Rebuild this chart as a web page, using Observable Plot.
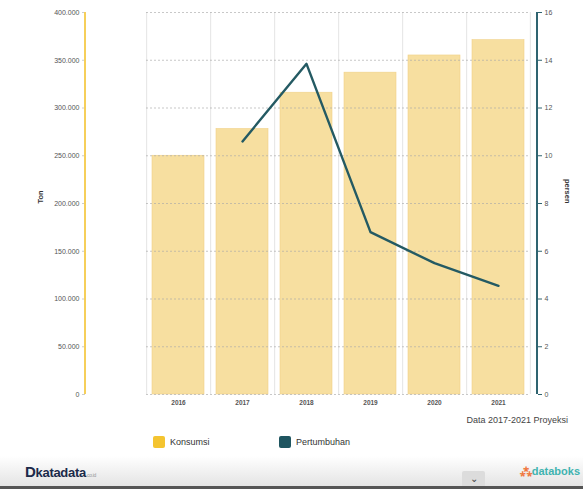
<!DOCTYPE html>
<html>
<head>
<meta charset="utf-8">
<script src="https://cdn.jsdelivr.net/npm/d3@7"></script>
<script src="https://cdn.jsdelivr.net/npm/@observablehq/plot@0.6"></script>
<style>
  html, body { margin: 0; padding: 0; background: #fff; }
  body { width: 583px; height: 489px; position: relative; overflow: hidden; font-family: "Liberation Sans", Arial, sans-serif; }
  #chart { position: absolute; left: 0; top: 0; }
  .note { position: absolute; right: 15px; top: 415px; font-size: 9px; color: #444; }
  .legend { position: absolute; top: 436px; font-size: 9px; color: #333; display: flex; align-items: center; }
  .legend span.sw { display: inline-block; width: 12px; height: 12px; border-radius: 2px; margin-right: 5px; }
  .footer { position: absolute; left: 0; top: 456px; width: 583px; height: 31px;
    background: linear-gradient(#ffffff, #e3e3e3); }
  .bottomline { position: absolute; left: 0; top: 486px; width: 583px; height: 3px; background: #555; }
  .kd { position: absolute; left: 25px; top: 463px; font-size: 13px; font-weight: bold; color: #1b2a4a; letter-spacing: -0.3px; }
  .kd b { font-size: 15px; }
  .kd small { font-size: 5px; color: #999; font-weight: normal; }
  .db { position: absolute; right: 3px; top: 463px; font-size: 11px; font-weight: bold; color: #3fb3b0; }
  .db i { color: #f07840; font-style: normal; }
  .btn { position: absolute; left: 462px; top: 471px; width: 23px; height: 16px; background: #dcdcdc; border-radius: 2px 2px 0 0;
    font-size: 10px; color: #444; text-align: center; line-height: 16px; }
</style>
</head>
<body>
<div id="chart"></div>
<div class="note">Data 2017-2021 Proyeksi</div>
<div class="legend" style="left:153px"><span class="sw" style="background:#f4c430"></span>Konsumsi</div>
<div class="legend" style="left:279px"><span class="sw" style="background:#1f5560"></span>Pertumbuhan</div>
<div class="footer"></div>
<div class="kd"><b>D</b>katadata<small>.co.id</small></div>
<div class="db"><i>&#8258;</i>databoks</div>
<div class="btn">&#8964;</div>
<div class="bottomline"></div>
<script>
const years = ["2016", "2017", "2018", "2019", "2020", "2021"];
const konsumsi = [250000, 278000, 316000, 337000, 355000, 371000];
const growthYears = ["2017", "2018", "2019", "2020", "2021"];
const pertumbuhan = [10.6, 13.85, 6.8, 5.5, 4.55];
const leftTicks = [0, 50000, 100000, 150000, 200000, 250000, 300000, 350000, 400000];
const rightTicks = [0, 2, 4, 6, 8, 10, 12, 14, 16];

const RATIO = 400000 / 16; // right axis 0-16 mapped on left 0-400.000
const bars = years.map((y, i) => ({year: y, value: konsumsi[i]}));
const growth = growthYears.map((y, i) => ({year: y, value: pertumbuhan[i]}));
const fmt = d => d3.format(",")(d).replace(/,/g, ".");

function axisLines(index, scales, values, dim) {
  const g = d3.create("svg:g");
  g.append("line").attr("x1", dim.marginLeft).attr("x2", dim.marginLeft)
    .attr("y1", dim.marginTop).attr("y2", dim.height - dim.marginBottom)
    .attr("stroke", "#f6cf5a").attr("stroke-width", 2);
  const xr = dim.width - dim.marginRight;
  g.append("line").attr("x1", xr).attr("x2", xr)
    .attr("y1", dim.marginTop).attr("y2", dim.height - dim.marginBottom)
    .attr("stroke", "#2f6470").attr("stroke-width", 2);
  return g.node();
}

const STEP = 382 / 6;

const chart = Plot.plot({
  width: 583,
  height: 412,
  marginTop: 12,
  marginBottom: 18,
  marginLeft: 85,
  marginRight: 46,
  style: {fontFamily: "Liberation Sans, Arial, sans-serif", fontSize: "7px", color: "#555"},
  x: {domain: years, paddingInner: 0.18, paddingOuter: 0.09, insetLeft: 61, insetRight: 7, label: null},
  y: {domain: [0, 400000], label: null},
  marks: [
    Plot.ruleX(years, {x: d => d, dx: -STEP / 2, stroke: "#e4e4e4", strokeWidth: 1}),
    Plot.ruleX(["2021"], {x: d => d, dx: STEP / 2, stroke: "#e4e4e4", strokeWidth: 1}),
    Plot.barY(bars, {x: "year", y: "value", fill: "#f7dfa0", stroke: "#f0d188", strokeWidth: 0.6}),
    Plot.ruleY(leftTicks, {y: d => d, insetLeft: 61, insetRight: 7, stroke: "#a8a8a8", strokeOpacity: 0.8, strokeDasharray: "2,2", strokeWidth: 0.8}),
    Plot.line(growth, {x: "year", y: d => d.value * RATIO, stroke: "#245a63", strokeWidth: 2.4}),
    Plot.axisY(leftTicks, {anchor: "left", tickFormat: fmt, tickSize: 3, tickPadding: 3, stroke: "#ccc", fill: "#555", fontSize: 7}),
    Plot.axisY(leftTicks, {anchor: "right", tickFormat: d => d / RATIO, tickSize: 4, tickPadding: 3, stroke: "#2f6470", fill: "#555", fontSize: 7}),
    Plot.axisX({tickSize: 0, tickPadding: 6, fontSize: 6.5, fontWeight: "bold", fill: "#555"}),
    axisLines,
    Plot.text(["Ton"], {frameAnchor: "left", dx: -45, rotate: -90, fontWeight: "bold", fontSize: 7.5, fill: "#333", text: d => d}),
    Plot.text(["persen"], {frameAnchor: "right", dx: 30, rotate: 90, fontWeight: "bold", fontSize: 7.5, fill: "#333", text: d => d})
  ]
});
document.getElementById("chart").appendChild(chart);
</script>
</body>
</html>
